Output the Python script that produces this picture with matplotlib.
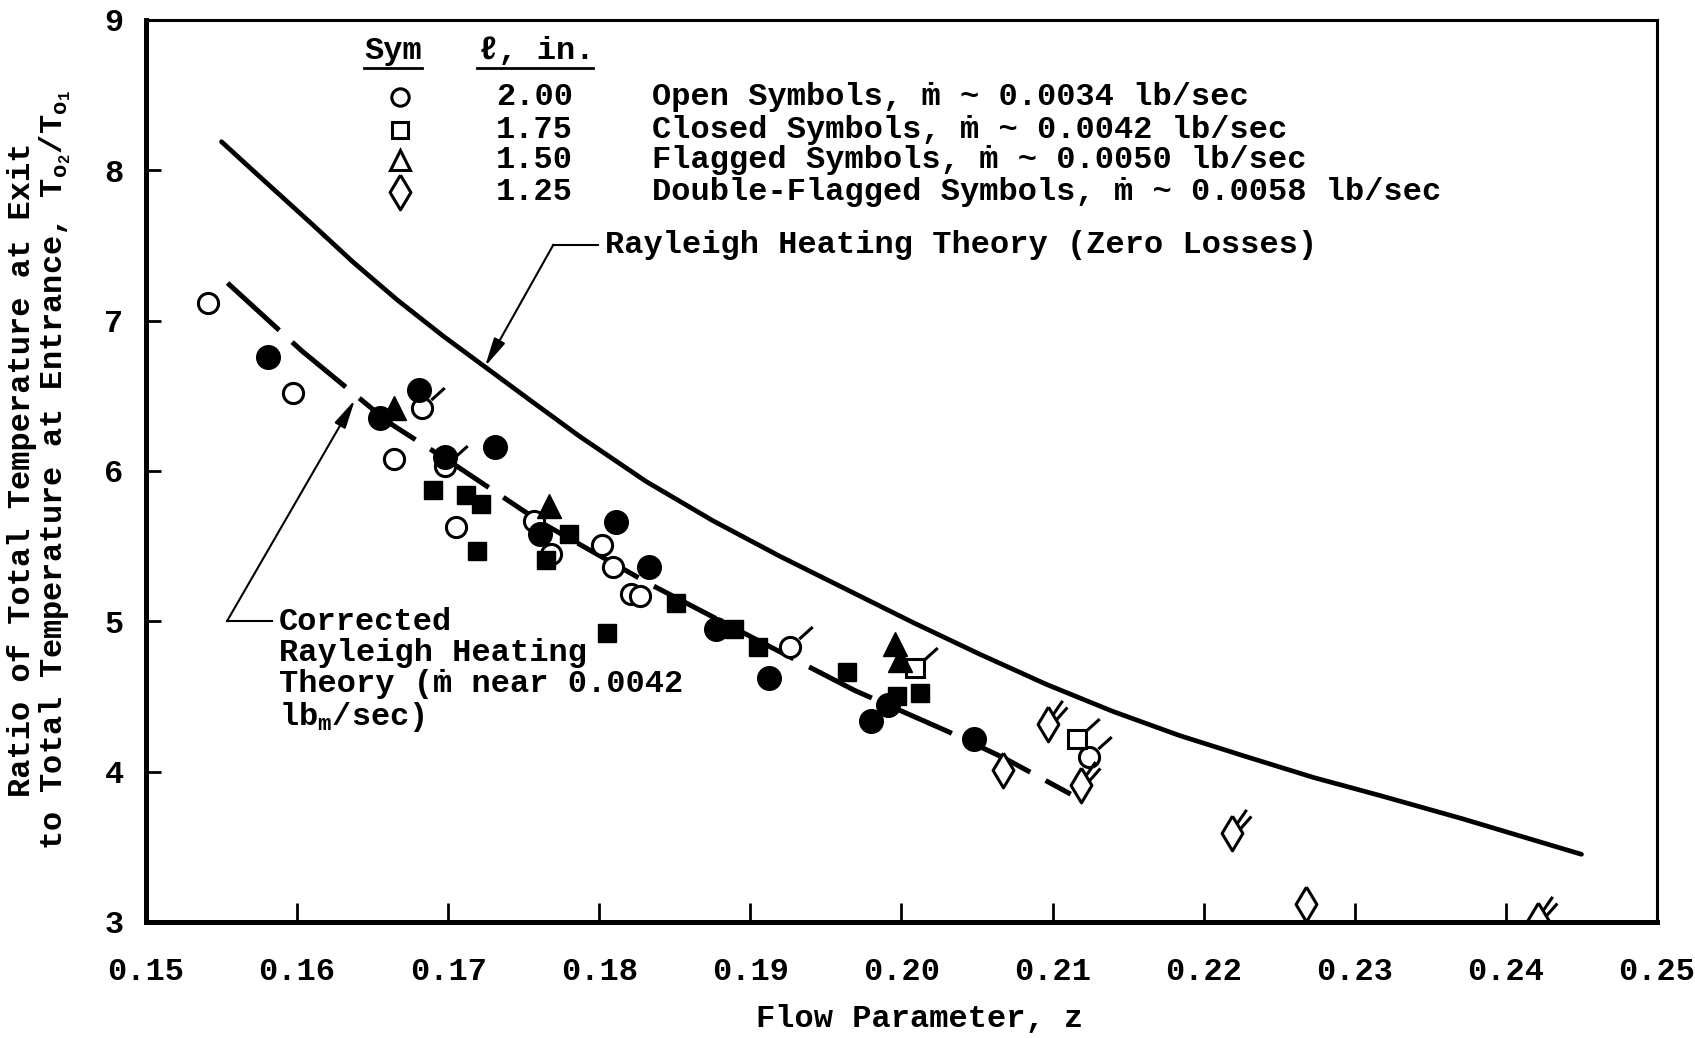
import matplotlib.pyplot as plt
from matplotlib.path import Path

plt.rcParams['font.family'] = ['Liberation Mono', 'DejaVu Sans Mono']
plt.rcParams['font.weight'] = 'bold'
plt.rcParams['font.size'] = 23
plt.rcParams['mathtext.default'] = 'regular'

# Rayleigh heating theory (zero losses)
theory_z = [0.1550, 0.1575, 0.1609, 0.1637, 0.1666, 0.1697, 0.1724, 0.1755,
            0.1787, 0.1831, 0.1875, 0.1920, 0.1964, 0.2008, 0.2052, 0.2096,
            0.2140, 0.2184, 0.2228, 0.2273, 0.2317, 0.2370, 0.2410, 0.2450]
theory_t = [8.19, 7.96, 7.65, 7.39, 7.14, 6.895, 6.695, 6.465,
            6.23, 5.93, 5.67, 5.43, 5.21, 4.99, 4.78, 4.58,
            4.40, 4.24, 4.10, 3.96, 3.84, 3.69, 3.57, 3.45]

# corrected Rayleigh heating theory (m near 0.0042)
corr_z = [0.1554, 0.1603, 0.1661, 0.1706, 0.1761, 0.1833, 0.1917, 0.1969, 0.2030, 0.2068, 0.2112]
corr_t = [7.25, 6.80, 6.32, 6.03, 5.66, 5.25, 4.81, 4.54, 4.27, 4.09, 3.85]

# l = 2.00 in (circles)
open_circle_z = [0.1541, 0.1597, 0.1664, 0.1705, 0.1757, 0.1768, 0.1802, 0.1809, 0.1821, 0.1827]
open_circle_t = [7.12, 6.52, 6.08, 5.63, 5.67, 5.45, 5.51, 5.36, 5.18, 5.17]
closed_circle_z = [0.1581, 0.1655, 0.1681, 0.1698, 0.1731, 0.1761, 0.1811, 0.1833,
                   0.1877, 0.1912, 0.1980, 0.1991, 0.2048]
closed_circle_t = [6.76, 6.35, 6.54, 6.09, 6.16, 5.58, 5.66, 5.36,
                   4.95, 4.62, 4.34, 4.44, 4.22]
flag_circle_z = [0.1683, 0.1698, 0.1926, 0.2124]
flag_circle_t = [6.42, 6.03, 4.83, 4.10]

# l = 1.75 in (squares)
closed_square_z = [0.1690, 0.1712, 0.1722, 0.1719, 0.1765, 0.1780, 0.1805, 0.1851,
                   0.1889, 0.1905, 0.1964, 0.1997, 0.2012]
closed_square_t = [5.87, 5.84, 5.78, 5.47, 5.41, 5.58, 4.92, 5.12,
                   4.95, 4.83, 4.66, 4.50, 4.52]
flag_square_z = [0.2009, 0.2116]
flag_square_t = [4.69, 4.22]

# l = 1.50 in (triangles)
closed_tri_z = [0.1664, 0.1767, 0.1996, 0.1999]
closed_tri_t = [6.42, 5.77, 4.85, 4.74]

# l = 1.25 in (diamonds)
open_dia_z = [0.2067, 0.2268]
open_dia_t = [4.01, 3.12]
dflag_dia_z = [0.2097, 0.2119, 0.2219, 0.2421]
dflag_dia_t = [4.32, 3.91, 3.59, 3.01]

legend_sym = ['2.00', '1.75', '1.50', '1.25']
legend_txt = ['Open Symbols, ṁ ~ 0.0034 lb/sec',
              'Closed Symbols, ṁ ~ 0.0042 lb/sec',
              'Flagged Symbols, ṁ ~ 0.0050 lb/sec',
              'Double-Flagged Symbols, ṁ ~ 0.0058 lb/sec']

# marker shapes
diamond = Path([(0, 1), (0.6, 0), (0, -1), (-0.6, 0), (0, 1)])
flag1 = Path([(0.4, 0.38), (1.0, 0.92)], [Path.MOVETO, Path.LINETO])
flag2 = Path([(0.2, 0.42), (0.6, 1.0), (0.34, 0.2), (0.8, 0.72)],
             [Path.MOVETO, Path.LINETO, Path.MOVETO, Path.LINETO])

fig = plt.figure(figsize=(16.95, 10.38), dpi=100)
ax = fig.add_axes([0.0861, 0.1118, 0.8915, 0.8690])

ax.plot(theory_z, theory_t, color='black', lw=3.4, solid_capstyle='round', solid_joinstyle='round')
ax.plot(corr_z, corr_t, color='black', lw=3.6, dashes=(14, 3.5))

op = dict(ls='none', mfc='white', mec='black', mew=2.2)
cl = dict(ls='none', color='black')
fl = dict(ls='none', mfc='none', mec='black', mew=2.2)

ax.plot(open_circle_z, open_circle_t, 'o', ms=14.5, **op)
ax.plot(flag_circle_z, flag_circle_t, 'o', ms=14.5, **op)
ax.plot(flag_circle_z, flag_circle_t, marker=flag1, ms=32, **fl)
ax.plot(closed_circle_z, closed_circle_t, 'o', ms=17, **cl)
ax.plot(closed_square_z, closed_square_t, 's', ms=13.5, **cl)
ax.plot(flag_square_z, flag_square_t, 's', ms=12.5, **op)
ax.plot(flag_square_z, flag_square_t, marker=flag1, ms=32, **fl)
ax.plot(closed_tri_z, closed_tri_t, '^', ms=17, **cl)
ax.plot(open_dia_z, open_dia_t, marker=diamond, ms=25, **op)
ax.plot(dflag_dia_z, dflag_dia_t, marker=diamond, ms=25, **op)
ax.plot(dflag_dia_z, dflag_dia_t, marker=flag2, ms=34, **fl)

# legend block
ax.text(0.16635, 8.795, 'Sym', ha='center', va='center')
ax.text(0.17588, 8.795, 'ℓ, in.', ha='center', va='center')
ax.plot([0.1644, 0.1683], [8.68, 8.68], color='black', lw=2)
ax.plot([0.1719, 0.1796], [8.68, 8.68], color='black', lw=2)
rows = [8.487, 8.27, 8.069, 7.853]
ax.plot(0.1668, rows[0], 'o', ms=12.5, **op)
ax.plot(0.1668, rows[1], 's', ms=11.5, **op)
ax.plot(0.1668, rows[2], '^', ms=15, **op)
ax.plot(0.1668, rows[3], marker=diamond, ms=25, **op)
for y, s, t in zip(rows, legend_sym, legend_txt):
    ax.text(0.17828, y, s, ha='right', va='center')
    ax.text(0.18347, y, t, ha='left', va='center')

# annotations
arrow = dict(arrowstyle='-|>,head_length=0.7,head_width=0.15', lw=1.5,
             color='black', mutation_scale=25, shrinkA=0, shrinkB=0)
ax.annotate('', xy=(0.17244, 6.695), xytext=(0.17696, 7.504), arrowprops=arrow)
ax.plot([0.17696, 0.17991], [7.504, 7.504], color='black', lw=1.5)
ax.text(0.18038, 7.504, 'Rayleigh Heating Theory (Zero Losses)', ha='left', va='center')

ax.annotate('', xy=(0.16383, 6.473), xytext=(0.15536, 5.0), arrowprops=arrow)
ax.plot([0.15536, 0.15837], [5.0, 5.0], color='black', lw=1.5)
ax.text(0.1588, 5.095, 'Corrected\nRayleigh Heating\nTheory (ṁ near 0.0042\nlb$_m$/sec)',
        ha='left', va='top', linespacing=1.04)

ax.set_xlim(0.15, 0.25)
ax.set_ylim(3, 9)
ax.set_xticks([0.15, 0.16, 0.17, 0.18, 0.19, 0.20, 0.21, 0.22, 0.23, 0.24, 0.25])
ax.set_xticklabels(['0.15', '0.16', '0.17', '0.18', '0.19', '0.20', '0.21', '0.22', '0.23', '0.24', '0.25'])
ax.set_yticks([3, 4, 5, 6, 7, 8, 9])
ax.tick_params(axis='x', direction='in', length=14, width=2, pad=25, labelsize=23)
ax.tick_params(axis='y', direction='in', length=11, width=2, pad=16, labelsize=23)
ax.tick_params(top=False, right=False)
for side in ['left', 'bottom']:
    ax.spines[side].set_linewidth(3.6)
for side in ['top', 'right']:
    ax.spines[side].set_linewidth(2.2)

fig.text(0.5428, 0.018, 'Flow Parameter, z', ha='center', va='center')
fig.text(0.0236, 0.547, 'Ratio of Total Temperature at Exit\nto Total Temperature at Entrance, $T_{o_2}/T_{o_1}$',
         ha='center', va='center', rotation=90, linespacing=1.0)

plt.savefig('out.png')
